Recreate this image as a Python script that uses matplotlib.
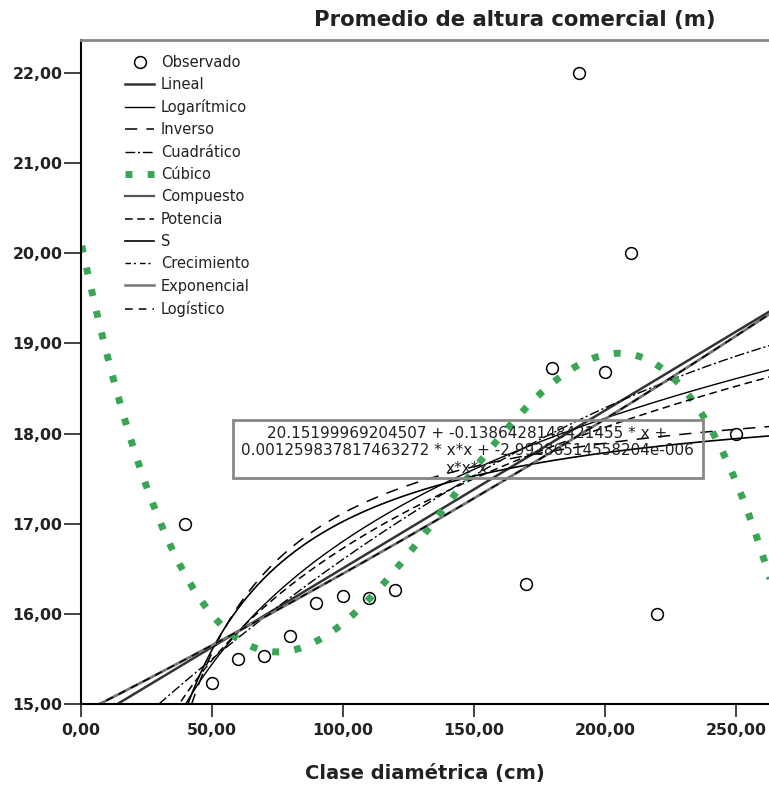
import numpy as np
import matplotlib
matplotlib.use("Agg")
import matplotlib.pyplot as plt
from matplotlib.ticker import FuncFormatter
from matplotlib.patches import Rectangle

# Observed data (Clase diamétrica vs promedio de altura comercial)
diametro = [40, 50, 60, 70, 80, 90, 100, 110, 120, 170, 180, 190, 200, 210, 220, 250]
altura = [17.00, 15.23, 15.50, 15.53, 15.75, 16.12, 16.20, 16.18, 16.27,
          16.33, 18.73, 22.00, 18.68, 20.00, 16.00, 18.00]

# Cubic coefficients printed on the chart
cubico_coef = [20.15199969204507, -0.1386428148421455,
               0.001259837817463272, -2.99286514558204e-006]
ecuacion = ("20.15199969204507 + -0.1386428148421455 * x +\n"
            "0.001259837817463272 * x*x + -2.99286514558204e-006\n"
            "x*x*x")

x_ticks = [0, 50, 100, 150, 200, 250]
y_ticks = [15, 16, 17, 18, 19, 20, 21, 22]

x = np.array(diametro, dtype=float)
y = np.array(altura, dtype=float)
xs = np.linspace(0.5, 263, 600)

# curve estimation fits (same models as SPSS)
b_lin = np.polyfit(x, y, 1)
b_log = np.polyfit(np.log(x), y, 1)
b_inv = np.polyfit(1 / x, y, 1)
b_quad = np.polyfit(x, y, 2)
b_exp = np.polyfit(x, np.log(y), 1)
b_pow = np.polyfit(np.log(x), np.log(y), 1)
b_s = np.polyfit(1 / x, np.log(y), 1)

fits = {
    "Lineal": np.polyval(b_lin, xs),
    "Logarítmico": np.polyval(b_log, np.log(xs)),
    "Inverso": np.polyval(b_inv, 1 / xs),
    "Cuadrático": np.polyval(b_quad, xs),
    "Cúbico": np.polyval(cubico_coef[::-1], xs),
    "Compuesto": np.exp(np.polyval(b_exp, xs)),
    "Potencia": np.exp(np.polyval(b_pow, np.log(xs))),
    "S": np.exp(np.polyval(b_s, 1 / xs)),
    "Crecimiento": np.exp(np.polyval(b_exp, xs)),
    "Exponencial": np.exp(np.polyval(b_exp, xs)),
    "Logístico": np.exp(np.polyval(b_exp, xs)),
}

styles = {
    "Lineal": dict(color="#333333", lw=1.8, ls="-"),
    "Logarítmico": dict(color="black", lw=1.0, ls="-"),
    "Inverso": dict(color="black", lw=1.1, ls=(0, (8, 6))),
    "Cuadrático": dict(color="black", lw=1.0, ls=(0, (7, 2, 1.5, 2))),
    "Cúbico": dict(color="#3aa655", lw=5.0, ls=(0, (1, 2.2))),
    "Compuesto": dict(color="#555555", lw=1.6, ls="-"),
    "Potencia": dict(color="black", lw=1.1, ls=(0, (5, 3))),
    "S": dict(color="black", lw=1.2, ls="-"),
    "Crecimiento": dict(color="black", lw=1.0, ls=(0, (4, 2, 1.5, 3))),
    "Exponencial": dict(color="#777777", lw=1.8, ls="-"),
    "Logístico": dict(color="black", lw=1.1, ls=(0, (5, 4))),
}

fig = plt.figure(figsize=(7.69, 7.87), dpi=100, facecolor="white")
ax = fig.add_axes([80.5 / 769, 1 - 704 / 787, 1 - 80.5 / 769, 664 / 787])

ax.plot(x, y, "o", ms=8.5, mfc="none", mec="black", mew=1.1, label="Observado", zorder=5)
for name, yy in fits.items():
    ax.plot(xs, yy, label=name, **styles[name])

ax.set_xlim(0, 262.6)
ax.set_ylim(15, 22.366)
ax.set_xticks(x_ticks)
ax.set_yticks(y_ticks)
fmt = FuncFormatter(lambda v, p: f"{v:.2f}".replace(".", ","))
ax.xaxis.set_major_formatter(fmt)
ax.yaxis.set_major_formatter(fmt)
ax.tick_params(axis="y", direction="out", length=12, width=1.2, color="#222222", pad=1)
ax.tick_params(axis="x", direction="out", length=9.5, width=1.2, color="#222222", pad=4)
for lab in ax.get_xticklabels() + ax.get_yticklabels():
    lab.set_fontweight("bold")
    lab.set_fontsize(11.3)
    lab.set_color("#222222")

ax.spines["left"].set_linewidth(1.5)
ax.spines["bottom"].set_linewidth(1.5)
ax.spines["top"].set_color("#888888")
ax.spines["top"].set_linewidth(2)
ax.spines["right"].set_visible(False)

# equation box
ax.add_patch(Rectangle((58.2, 17.51), 179.4, 0.64, fill=False, ec="#888888", lw=2, zorder=6))
ax.text(147.4, 17.81, ecuacion, ha="center", va="center", fontsize=11,
        linespacing=1.2, color="#222222", zorder=7)

leg = ax.legend(loc="upper left", bbox_to_anchor=(0.064, 0.978), frameon=False,
                fontsize=10.5, handlelength=2.05, handletextpad=0.45, labelspacing=0.5,
                borderaxespad=0, borderpad=0)
for t in leg.get_texts():
    t.set_color("#222222")

fig.text(514.5 / 769, 1 - 20 / 787, "Promedio de altura comercial (m)", ha="center",
         va="center", fontsize=15.3, fontweight="bold", color="#222222")
fig.text(425 / 769, 1 - 773 / 787, "Clase diamétrica (cm)", ha="center",
         va="center", fontsize=14, fontweight="bold", color="#222222")

plt.savefig("out.png", dpi=100, facecolor="white")
plt.close()
